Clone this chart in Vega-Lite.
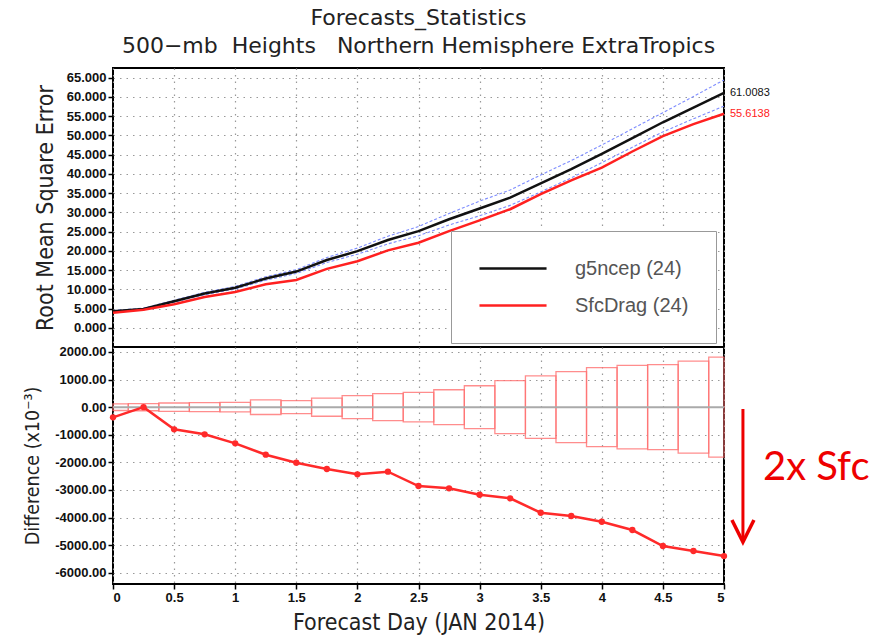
{
  "$schema": "https://vega.github.io/schema/vega-lite/v6.json",
  "padding": {"left": 21, "top": 6, "right": 5, "bottom": 5},
  "background": "white",
  "config": {
    "view": {"stroke": "black", "strokeWidth": 2},
    "axis": {
      "domain": false, "grid": true, "gridColor": "#999", "gridDash": [1.5, 5], "gridWidth": 1.2,
      "tickColor": "black", "tickWidth": 1.5, "tickSize": 5, "labelPadding": 2, "labelOverlap": false,
      "labelFont": "Liberation Sans", "labelFontWeight": "bold", "labelFontSize": 13, "labelColor": "#111",
      "titleFont": "DejaVu Sans Condensed, DejaVu Sans, sans-serif", "titleFontWeight": "normal",
      "titleFontSize": 21, "titleColor": "#222"
    }
  },
  "datasets": {
    "rmse": [
      {"day": 0, "series": "g5ncep (24)", "rmse": 4.3}, {"day": 0.25, "series": "g5ncep (24)", "rmse": 4.9},
      {"day": 0.5, "series": "g5ncep (24)", "rmse": 6.9}, {"day": 0.75, "series": "g5ncep (24)", "rmse": 8.9},
      {"day": 1, "series": "g5ncep (24)", "rmse": 10.4}, {"day": 1.25, "series": "g5ncep (24)", "rmse": 12.8},
      {"day": 1.5, "series": "g5ncep (24)", "rmse": 14.6}, {"day": 1.75, "series": "g5ncep (24)", "rmse": 17.6},
      {"day": 2, "series": "g5ncep (24)", "rmse": 19.9}, {"day": 2.25, "series": "g5ncep (24)", "rmse": 22.8},
      {"day": 2.5, "series": "g5ncep (24)", "rmse": 25.1}, {"day": 2.75, "series": "g5ncep (24)", "rmse": 28.2},
      {"day": 3, "series": "g5ncep (24)", "rmse": 31.0}, {"day": 3.25, "series": "g5ncep (24)", "rmse": 33.8},
      {"day": 3.5, "series": "g5ncep (24)", "rmse": 37.5}, {"day": 3.75, "series": "g5ncep (24)", "rmse": 41.2},
      {"day": 4, "series": "g5ncep (24)", "rmse": 45.2}, {"day": 4.25, "series": "g5ncep (24)", "rmse": 49.3},
      {"day": 4.5, "series": "g5ncep (24)", "rmse": 53.4}, {"day": 4.75, "series": "g5ncep (24)", "rmse": 57.2},
      {"day": 5, "series": "g5ncep (24)", "rmse": 61.0083},
      {"day": 0, "series": "SfcDrag (24)", "rmse": 3.9}, {"day": 0.25, "series": "SfcDrag (24)", "rmse": 4.7},
      {"day": 0.5, "series": "SfcDrag (24)", "rmse": 6.1}, {"day": 0.75, "series": "SfcDrag (24)", "rmse": 8.0},
      {"day": 1, "series": "SfcDrag (24)", "rmse": 9.3}, {"day": 1.25, "series": "SfcDrag (24)", "rmse": 11.3},
      {"day": 1.5, "series": "SfcDrag (24)", "rmse": 12.4}, {"day": 1.75, "series": "SfcDrag (24)", "rmse": 15.3},
      {"day": 2, "series": "SfcDrag (24)", "rmse": 17.3}, {"day": 2.25, "series": "SfcDrag (24)", "rmse": 20.1},
      {"day": 2.5, "series": "SfcDrag (24)", "rmse": 22.1}, {"day": 2.75, "series": "SfcDrag (24)", "rmse": 25.1},
      {"day": 3, "series": "SfcDrag (24)", "rmse": 27.9}, {"day": 3.25, "series": "SfcDrag (24)", "rmse": 30.8},
      {"day": 3.5, "series": "SfcDrag (24)", "rmse": 34.7}, {"day": 3.75, "series": "SfcDrag (24)", "rmse": 38.3},
      {"day": 4, "series": "SfcDrag (24)", "rmse": 41.6}, {"day": 4.25, "series": "SfcDrag (24)", "rmse": 45.8},
      {"day": 4.5, "series": "SfcDrag (24)", "rmse": 49.8}, {"day": 4.75, "series": "SfcDrag (24)", "rmse": 52.9},
      {"day": 5, "series": "SfcDrag (24)", "rmse": 55.6138}
    ],
    "band": [
      {"day": 0, "bound": "upper", "rmse": 4.5}, {"day": 0.25, "bound": "upper", "rmse": 5.1},
      {"day": 0.5, "bound": "upper", "rmse": 7.15}, {"day": 0.75, "bound": "upper", "rmse": 9.2},
      {"day": 1, "bound": "upper", "rmse": 10.75}, {"day": 1.25, "bound": "upper", "rmse": 13.25},
      {"day": 1.5, "bound": "upper", "rmse": 15.1}, {"day": 1.75, "bound": "upper", "rmse": 18.25},
      {"day": 2, "bound": "upper", "rmse": 20.7}, {"day": 2.25, "bound": "upper", "rmse": 23.8},
      {"day": 2.5, "bound": "upper", "rmse": 26.3}, {"day": 2.75, "bound": "upper", "rmse": 29.7},
      {"day": 3, "bound": "upper", "rmse": 32.9}, {"day": 3.25, "bound": "upper", "rmse": 35.8},
      {"day": 3.5, "bound": "upper", "rmse": 39.7}, {"day": 3.75, "bound": "upper", "rmse": 43.45},
      {"day": 4, "bound": "upper", "rmse": 47.5}, {"day": 4.25, "bound": "upper", "rmse": 51.7},
      {"day": 4.5, "bound": "upper", "rmse": 55.9}, {"day": 4.75, "bound": "upper", "rmse": 60.1},
      {"day": 5, "bound": "upper", "rmse": 64.4},
      {"day": 0, "bound": "lower", "rmse": 4.1}, {"day": 0.25, "bound": "lower", "rmse": 4.7},
      {"day": 0.5, "bound": "lower", "rmse": 6.65}, {"day": 0.75, "bound": "lower", "rmse": 8.6},
      {"day": 1, "bound": "lower", "rmse": 10.05}, {"day": 1.25, "bound": "lower", "rmse": 12.35},
      {"day": 1.5, "bound": "lower", "rmse": 14.1}, {"day": 1.75, "bound": "lower", "rmse": 16.95},
      {"day": 2, "bound": "lower", "rmse": 19.1}, {"day": 2.25, "bound": "lower", "rmse": 21.8},
      {"day": 2.5, "bound": "lower", "rmse": 23.9}, {"day": 2.75, "bound": "lower", "rmse": 26.7},
      {"day": 3, "bound": "lower", "rmse": 29.1}, {"day": 3.25, "bound": "lower", "rmse": 31.8},
      {"day": 3.5, "bound": "lower", "rmse": 35.3}, {"day": 3.75, "bound": "lower", "rmse": 38.95},
      {"day": 4, "bound": "lower", "rmse": 42.9}, {"day": 4.25, "bound": "lower", "rmse": 46.9},
      {"day": 4.5, "bound": "lower", "rmse": 50.9}, {"day": 4.75, "bound": "lower", "rmse": 54.3},
      {"day": 5, "bound": "lower", "rmse": 57.6}
    ],
    "diff": [
      {"day": 0, "diff": -370}, {"day": 0.25, "diff": 0}, {"day": 0.5, "diff": -804}, {"day": 0.75, "diff": -985},
      {"day": 1, "diff": -1311}, {"day": 1.25, "diff": -1723}, {"day": 1.5, "diff": -2013}, {"day": 1.75, "diff": -2242},
      {"day": 2, "diff": -2436}, {"day": 2.25, "diff": -2340}, {"day": 2.5, "diff": -2859}, {"day": 2.75, "diff": -2943},
      {"day": 3, "diff": -3174}, {"day": 3.25, "diff": -3305}, {"day": 3.5, "diff": -3827}, {"day": 3.75, "diff": -3946},
      {"day": 4, "diff": -4153}, {"day": 4.25, "diff": -4454}, {"day": 4.5, "diff": -5034}, {"day": 4.75, "diff": -5215},
      {"day": 5, "diff": -5397}
    ],
    "boxes": [
      {"start": 0, "end": 0.125, "lo": -121, "hi": 121},
      {"start": 0.125, "end": 0.375, "lo": -130, "hi": 130},
      {"start": 0.375, "end": 0.625, "lo": -150, "hi": 150},
      {"start": 0.625, "end": 0.875, "lo": -164, "hi": 164},
      {"start": 0.875, "end": 1.125, "lo": -170, "hi": 170},
      {"start": 1.125, "end": 1.375, "lo": -267, "hi": 267},
      {"start": 1.375, "end": 1.625, "lo": -236, "hi": 236},
      {"start": 1.625, "end": 1.875, "lo": -330, "hi": 330},
      {"start": 1.875, "end": 2.125, "lo": -418, "hi": 418},
      {"start": 2.125, "end": 2.375, "lo": -490, "hi": 490},
      {"start": 2.375, "end": 2.625, "lo": -533, "hi": 533},
      {"start": 2.625, "end": 2.875, "lo": -630, "hi": 630},
      {"start": 2.875, "end": 3.125, "lo": -775, "hi": 775},
      {"start": 3.125, "end": 3.375, "lo": -963, "hi": 963},
      {"start": 3.375, "end": 3.625, "lo": -1133, "hi": 1133},
      {"start": 3.625, "end": 3.875, "lo": -1285, "hi": 1285},
      {"start": 3.875, "end": 4.125, "lo": -1430, "hi": 1430},
      {"start": 4.125, "end": 4.375, "lo": -1515, "hi": 1515},
      {"start": 4.375, "end": 4.625, "lo": -1539, "hi": 1539},
      {"start": 4.625, "end": 4.875, "lo": -1667, "hi": 1667},
      {"start": 4.875, "end": 5, "lo": -1812, "hi": 1812}
    ],
    "note": [
      {"ax": 5.155, "ytop": -67, "ybot": -4860, "tip": -4889, "tx": 5.319, "ty": -2206, "label": "2x Sfc"}
    ],
    "zero": [{"zero": 0}]
  },
  "spacing": 0,
  "bounds": "flush",
  "resolve": {"legend": {"color": "independent"}, "scale": {"color": "independent"}},
  "vconcat": [
    {
      "width": 611,
      "height": 279,
      "title": {
        "text": "Forecasts_Statistics",
        "subtitle": "500−mb\u00a0 Heights\u00a0\u00a0\u00a0Northern Hemisphere ExtraTropics",
        "font": "DejaVu Sans", "fontSize": 22, "fontWeight": "normal", "color": "#222",
        "subtitleFont": "DejaVu Sans", "subtitleFontSize": 22, "subtitleColor": "#222",
        "subtitlePadding": 6, "offset": 10, "anchor": "middle", "frame": "group"
      },
      "encoding": {
        "x": {"field": "day", "type": "quantitative", "scale": {"domain": [0, 5], "nice": false},
              "axis": {"values": [0, 0.5, 1, 1.5, 2, 2.5, 3, 3.5, 4, 4.5, 5], "labels": false, "ticks": false, "title": null}},
        "y": {"field": "rmse", "type": "quantitative", "scale": {"domain": [-5, 67.5], "nice": false, "zero": false},
              "axis": {"values": [0, 5, 10, 15, 20, 25, 30, 35, 40, 45, 50, 55, 60, 65], "format": ".3f",
                       "title": "Root Mean Square Error", "titleFontSize": 23, "titlePadding": 9}}
      },
      "layer": [
        {
          "data": {"name": "band"},
          "mark": {"type": "line", "strokeDash": [3, 2], "strokeWidth": 1.1, "color": "#7d8cff"},
          "encoding": {"detail": {"field": "bound"}}
        },
        {
          "data": {"name": "rmse"},
          "mark": {"type": "line", "strokeWidth": 2.5},
          "encoding": {
            "color": {
              "field": "series", "type": "nominal",
              "scale": {"domain": ["g5ncep (24)", "SfcDrag (24)"], "range": ["#111111", "#ff2020"]},
              "legend": {
                "orient": "none", "legendX": 338, "legendY": 163, "title": null,
                "symbolType": "stroke", "symbolSize": 4500, "symbolStrokeWidth": 2.5, "clipHeight": 21,
                "labelFont": "Liberation Sans", "labelFontSize": 20, "labelColor": "#555",
                "labelOffset": 27, "rowPadding": 16, "padding": 27,
                "strokeColor": "#999", "fillColor": "white"
              }
            }
          }
        },
        {
          "data": {"name": "rmse"},
          "transform": [{"filter": "datum.day == 5"}],
          "mark": {"type": "text", "align": "left", "dx": 6, "fontSize": 11, "font": "Liberation Sans"},
          "encoding": {
            "text": {"field": "rmse", "type": "quantitative", "format": ".4f"},
            "color": {"field": "series", "type": "nominal", "legend": null}
          }
        }
      ]
    },
    {
      "width": 611,
      "height": 237,
      "encoding": {
        "x": {"field": "day", "type": "quantitative", "scale": {"domain": [0, 5], "nice": false},
              "axis": {"values": [0, 0.5, 1, 1.5, 2, 2.5, 3, 3.5, 4, 4.5, 5], "format": "~g",
                       "labelFontSize": 13,
                       "title": "Forecast Day (JAN 2014)", "titleFontSize": 23, "titlePadding": 7}},
        "y": {"field": "diff", "type": "quantitative", "scale": {"domain": [-6410, 2180], "nice": false, "zero": false},
              "axis": {"values": [-6000, -5000, -4000, -3000, -2000, -1000, 0, 1000, 2000],
                       "labelExpr": "replace(format(datum.value, '.2f'), '\u2212', '-')",
                       "title": "Difference (x10⁻³)", "titleFontSize": 19.5, "titlePadding": 12}}
      },
      "layer": [
        {
          "data": {"name": "boxes"},
          "mark": {"type": "rect", "fillOpacity": 0, "fill": "white", "stroke": "#ff7070", "strokeWidth": 1.3, "strokeOpacity": 0.8},
          "encoding": {
            "x": {"field": "start", "type": "quantitative"},
            "x2": {"field": "end"},
            "y": {"field": "lo", "type": "quantitative"},
            "y2": {"field": "hi"}
          }
        },
        {
          "data": {"name": "zero"},
          "mark": {"type": "rule", "color": "#aaaaaa", "strokeWidth": 2},
          "encoding": {"x": null, "y": {"field": "zero", "type": "quantitative"}}
        },
        {
          "data": {"name": "diff"},
          "mark": {"type": "line", "color": "#ff2a2a", "strokeWidth": 2.5,
                   "point": {"filled": true, "size": 40, "color": "#ff2a2a"}}
        },
        {
          "data": {"name": "note"},
          "mark": {"type": "rule", "color": "#ee0000", "strokeWidth": 3},
          "encoding": {
            "x": {"field": "ax", "type": "quantitative"},
            "y": {"field": "ytop", "type": "quantitative"},
            "y2": {"field": "ybot"}
          }
        },
        {
          "data": {"name": "note"},
          "mark": {"type": "point", "shape": "M -1 -2 L 0 0 L 1 -2", "filled": false, "stroke": "#ee0000", "strokeWidth": 3.5, "size": 484, "opacity": 1},
          "encoding": {
            "x": {"field": "ax", "type": "quantitative"},
            "y": {"field": "tip", "type": "quantitative"}
          }
        },
        {
          "data": {"name": "note"},
          "mark": {"type": "text", "align": "left", "baseline": "middle", "font": "Lato", "fontSize": 40, "color": "#ee0000"},
          "encoding": {
            "x": {"field": "tx", "type": "quantitative"},
            "y": {"field": "ty", "type": "quantitative"},
            "text": {"field": "label"}
          }
        }
      ]
    }
  ]
}
